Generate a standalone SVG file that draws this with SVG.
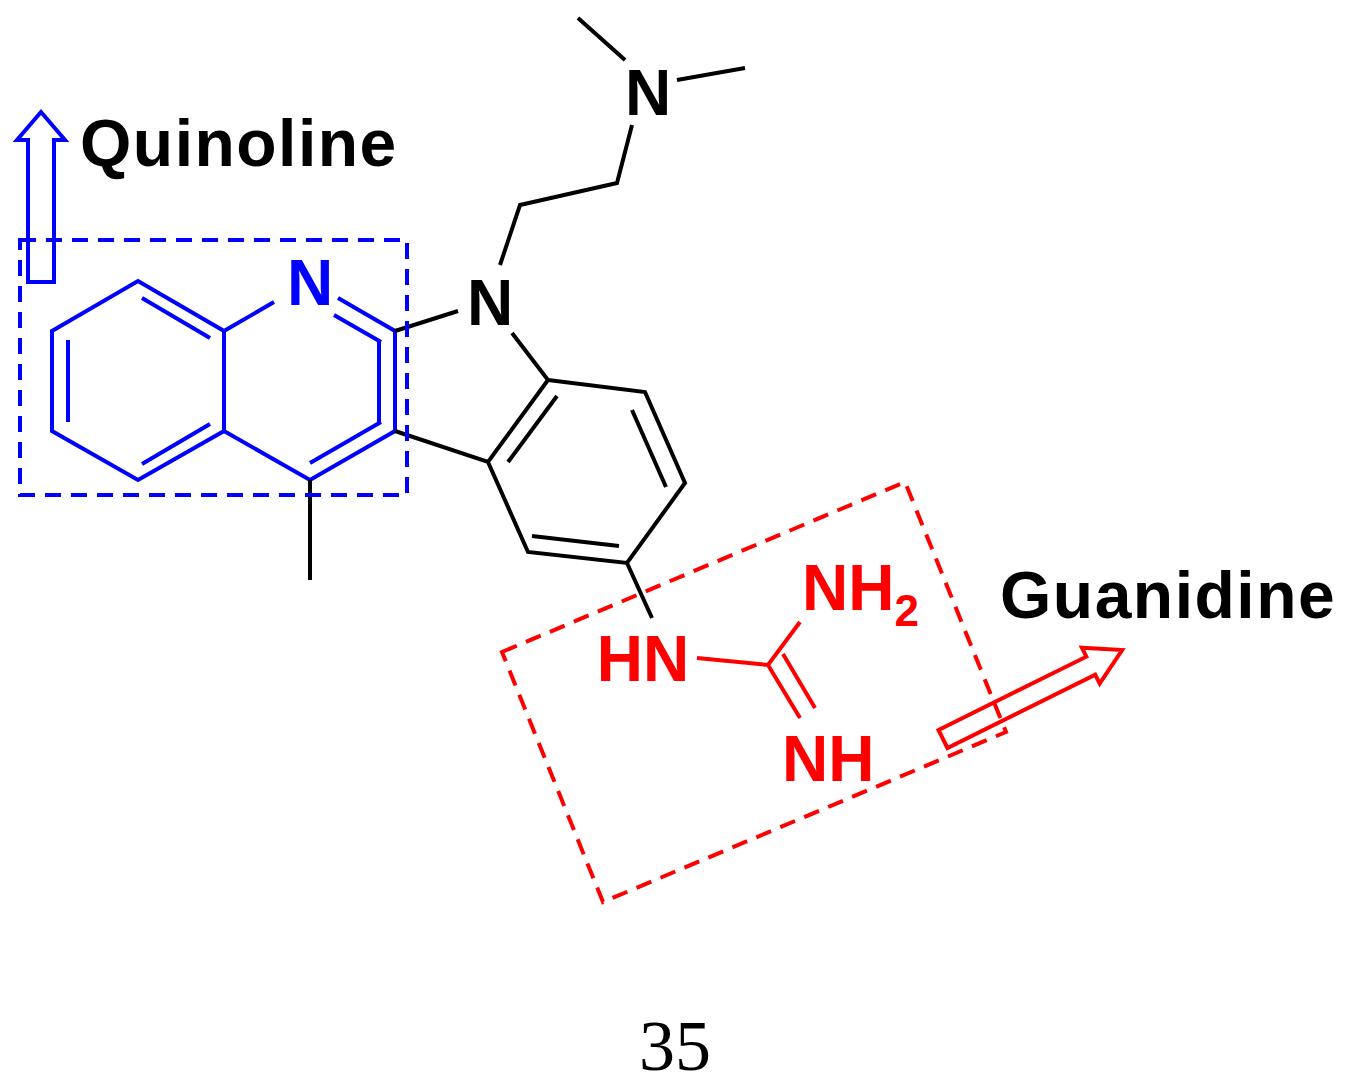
<svg xmlns="http://www.w3.org/2000/svg" width="1345" height="1084" viewBox="0 0 1345 1084">
<style>
.b{stroke:#0000ff;stroke-width:4;fill:none}
.k{stroke:#000;stroke-width:4;fill:none}
.r{stroke:#ff0000;stroke-width:4;fill:none}
.d{stroke-dasharray:16,10}
.t{font-family:"Liberation Sans",Arial,sans-serif;font-weight:bold;font-size:64px}
.l{font-size:66px;letter-spacing:1.5px}
</style>
<rect width="1345" height="1084" fill="#fff"/>
<g id="connectors">
<path class="b" d="M52,331 L138,281 L224,331 L224,431 L138,480 L52,431 Z M68,340 L68,422 M142,298 L210,338 M142,464 L210,424 M224,331 L274,302 M338,298 L395,331 L395,431 L310,480 L224,431 M334,315 L381,342 M379,340 L379,422 M310,463 L381,422"/>
<path class="k" d="M310,480 L310,580 M395,331 L458,311 M512,333 L548,380 L488,462 L395,431 M548,380 L645,392 L685,483 L627,563 L528,552 L488,462 M508,462 L557,396 M632,410 L666,487 M532,536 L619,546 M500,265 L520,205 L617,183 L632,125 M625,60 L578,18 M677,80 L745,68 M627,563 L652,618"/>
<path class="r" d="M697,658 L768,665 L800,622 M768,665 L800,718 M783,654 L815,708"/>
</g>
<g id="quinoline-box">
<rect class="b d" x="20" y="240" width="387" height="255"/>
<path class="b" d="M28,282 L28,140 L17,140 L41,112 L65,140 L54,140 L54,282 Z"/>
<text class="t l" x="80" y="166">Quinoline</text>
</g>
<g id="guanidine-box">
<path class="r d" d="M502,652 L905,482 L1006,732 L603,902 Z"/>
<path class="r" d="M0,-10 L165,-10 L165,-20 L200,0 L165,20 L165,10 L0,10 Z" transform="translate(943,739) rotate(-26.4)"/>
<text class="t l" x="1000" y="618">Guanidine</text>
</g>
<g id="atoms">
<text class="t" x="310" y="305" fill="#0000ff" text-anchor="middle">N</text>
<text class="t" x="490" y="325" text-anchor="middle">N</text>
<text class="t" x="648" y="115" text-anchor="middle">N</text>
<text class="t" x="643" y="681" fill="#ff0000" text-anchor="middle">HN</text>
<text class="t" x="802" y="610" fill="#ff0000">NH<tspan font-size="44" dy="16">2</tspan></text>
<text class="t" x="782" y="781" fill="#ff0000">NH</text>
</g>
<text x="675" y="1070" text-anchor="middle" font-family="Liberation Serif,serif" font-size="72">35</text>
</svg>
